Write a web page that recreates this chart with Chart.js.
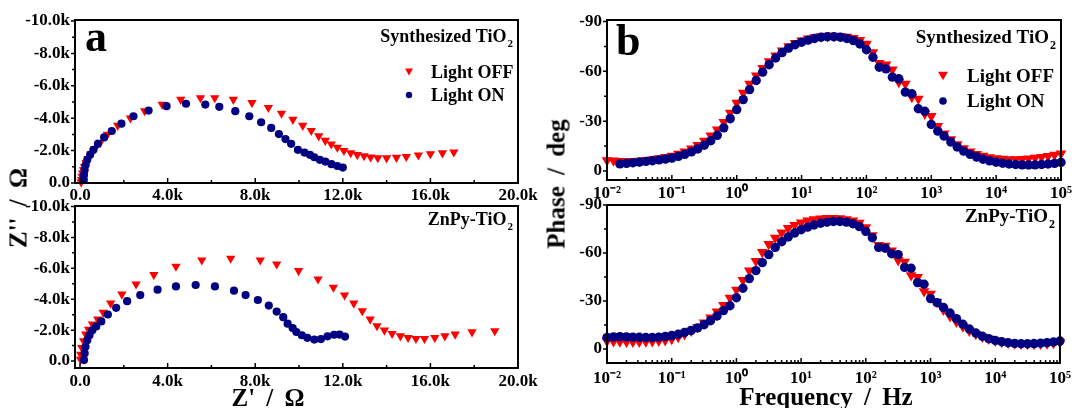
<!DOCTYPE html>
<html>
<head>
<meta charset="utf-8">
<script src="https://cdn.jsdelivr.net/npm/chart.js@4.4.1/dist/chart.umd.min.js"></script>
<style>
  body { margin: 0; background: #fff; width: 1076px; height: 408px; position: relative; overflow: hidden;
         font-family: "Liberation Serif", "Times New Roman", serif; font-weight: bold; }
  canvas { position: absolute; left: 0; top: 0; }
  .t { position: absolute; white-space: nowrap; font-size: 25px; line-height: 1; word-spacing: 5px;
       transform: translate(-50%, -50%); }
  .rot { transform: translate(-50%, -50%) rotate(-90deg); }
</style>
</head>
<body>
<canvas id="aTop" width="1076" height="408"></canvas>
<canvas id="aBot" width="1076" height="408"></canvas>
<canvas id="bTop" width="1076" height="408"></canvas>
<canvas id="bBot" width="1076" height="408"></canvas>
<div class="t rot" style="left:18px;top:208px">Z'' / Ω</div>
<div class="t rot" style="left:556px;top:184px">Phase / deg</div>
<div class="t" style="left:268px;top:397px">Z' / Ω</div>
<div class="t" style="left:826px;top:396px">Frequency / Hz</div>
<script>
// ---- tick labels ----
const zReTicks = [0, 4000, 8000, 12000, 16000, 20000];
const zReTickText = ['0.0', '4.0k', '8.0k', '12.0k', '16.0k', '20.0k'];
const zImTicks = [-10000, -8000, -6000, -4000, -2000, 0];
const zImTickText = ['-10.0k', '-8.0k', '-6.0k', '-4.0k', '-2.0k', '0.0'];
const freqTicks = [0.01, 0.1, 1, 10, 100, 1000, 10000, 100000];
const freqTickText = ['10⁻²', '10⁻¹', '10⁰', '10¹', '10²', '10³', '10⁴', '10⁵'];
const phaseTicks = [-90, -60, -30, 0];
const phaseTickText = ['-90', '-60', '-30', '0'];

// ---- Nyquist data (ohm) ----
const zReOffSyn = [50,70,90,120,160,210,280,370,500,680,920,1250,1720,2300,2950,3750,4600,5500,6150,7000,
  7850,8600,9200,9720,10170,10560,10900,11200,11470,11750,12050,12360,12660,12970,13270,13600,14000,14450,14900,15450,
  16000,16550,17070];
const zImOffSyn = [-50,-200,-400,-600,-800,-1000,-1250,-1500,-1800,-2100,-2500,-3000,-3550,-4000,-4450,-4850,-5150,-5250,-5250,-5150,
  -4950,-4650,-4300,-3920,-3550,-3230,-2900,-2620,-2400,-2200,-2000,-1860,-1740,-1670,-1600,-1550,-1540,-1570,-1630,-1720,
  -1800,-1850,-1900];
const zReOnSyn = [170,180,210,260,330,460,610,820,1100,1450,1890,2440,3130,3950,4840,5720,6360,7090,7730,8270,
  8730,9080,9380,9640,9950,10250,10500,10700,10950,11200,11480,11750,12000];
const zImOnSyn = [-190,-500,-810,-1120,-1430,-1740,-2050,-2420,-2810,-3210,-3660,-4120,-4470,-4740,-4890,-4840,-4700,-4430,-4120,-3750,
  -3400,-3020,-2710,-2420,-2050,-1880,-1740,-1590,-1430,-1320,-1160,-1050,-950];
const zReOffZn = [20,30,80,160,260,390,570,810,1060,1400,1910,2560,3370,4380,5560,6880,8230,8980,9980,10870,
  11570,12080,12500,12890,13250,13560,13900,14250,14630,14980,15340,15730,16200,16660,17130,17900,18940];
const zImOffZn = [-110,-430,-860,-1300,-1730,-2050,-2380,-2700,-3140,-3740,-4320,-4970,-5580,-6120,-6530,-6640,-6530,-6270,-5840,-5300,
  -4760,-4260,-3740,-3240,-2700,-2270,-1990,-1770,-1620,-1510,-1450,-1450,-1510,-1620,-1730,-1880,-1950];
const zReOnZn = [180,210,250,330,430,560,740,970,1270,1650,2150,2750,3540,4380,5280,6160,7030,7560,8120,8620,
  8980,9280,9480,9710,9880,10130,10380,10700,11000,11300,11600,11850,12100];
const zImOnZn = [-60,-490,-920,-1350,-1670,-1990,-2240,-2560,-3010,-3440,-3870,-4270,-4620,-4830,-4920,-4830,-4550,-4270,-3950,-3590,
  -3200,-2840,-2420,-2130,-1880,-1670,-1500,-1390,-1420,-1600,-1700,-1710,-1580];

// ---- Bode phase data ----
const freq = [0.01,0.0126,0.0158,0.02,0.0251,0.0316,0.0398,0.0501,0.0631,0.0794,
  0.1,0.126,0.158,0.2,0.251,0.316,0.398,0.501,0.631,0.794,
  1,1.26,1.58,2,2.51,3.16,3.98,5.01,6.31,7.94,
  10,12.6,15.8,20,25.1,31.6,39.8,50.1,63.1,79.4,
  100,126,158,200,251,316,398,501,631,794,
  1000,1260,1580,2000,2510,3160,3980,5010,6310,7940,
  10000,12600,15800,20000,25100,31600,39800,50100,63100,79400,
  100000];
const phaseOffSyn = [-6.5,-6.3,-6.0,-6.0,-6.0,-6.2,-6.6,-7.1,-7.7,-8.4,
  -9.2,-10.3,-11.7,-13.5,-15.6,-18.2,-21.3,-25,-29.5,-35,
  -41,-47,-52.5,-57.5,-62,-66,-69.5,-72.5,-75,-77,
  -78.5,-79.7,-80.5,-81,-81.3,-81.3,-81.2,-80.8,-80,-78.8,
  -76.5,-71.5,-65,-64,-61,-53.5,-52.5,-44.5,-43.5,-34.5,
  -33,-27,-22.5,-19,-16,-13.6,-11.7,-10.2,-9.1,-8.3,
  -7.7,-7.3,-7.1,-7.1,-7.2,-7.5,-7.9,-8.4,-9.0,-9.7,
  -10.5];
const phaseOnSyn = [null,null,-4.3,-4.6,-5.0,-5.4,-5.8,-6.2,-6.7,-7.2,
  -7.8,-8.8,-10.0,-11.5,-13.3,-15.5,-18.2,-21.5,-26,-31.5,
  -37,-43,-49,-54.5,-59.5,-64,-68,-71.3,-74,-76,
  -77.5,-78.8,-79.8,-80.5,-80.8,-80.8,-80.5,-79.8,-78.5,-76.5,
  -73,-68.5,-62.5,-61.5,-56.5,-55.5,-47.5,-46.5,-37.5,-36,
  -28,-24,-21,-17.5,-14.5,-12,-10,-8.4,-7.1,-6.1,
  -5.3,-4.7,-4.2,-3.9,-3.7,-3.6,-3.7,-3.9,-4.2,-4.6,
  -5.2];
const phaseOffZn = [-5.0,-4.8,-4.6,-4.5,-4.5,-4.5,-4.6,-4.8,-5.1,-5.5,
  -6.2,-7.5,-9.2,-11.3,-13.7,-16.5,-19.7,-23.3,-27.5,-32,
  -37,-43,-49,-55,-60.5,-65.5,-69.5,-72.8,-75.5,-77.5,
  -79,-80.2,-81,-81.5,-81.8,-81.8,-81.6,-81.1,-80.2,-78.8,
  -76,-71,-65,-64.5,-61.5,-55.5,-54.5,-46,-45,-36,
  -34.5,-29.5,-24.5,-20.5,-17,-14,-11.4,-9.3,-7.6,-6.3,
  -5.2,-4.4,-3.8,-3.4,-3.2,-3.1,-3.1,-3.2,-3.4,-3.7,
  -4.1];
const phaseOnZn = [-7.2,-7.6,-7.7,-7.6,-7.4,-7.3,-7.2,-7.2,-7.4,-7.8,
  -8.4,-9.2,-10.3,-11.6,-13.2,-15.2,-17.7,-20.6,-24,-27,
  -32,-38,-44,-49,-54,-59,-63.5,-67,-70,-72.5,
  -74.5,-76.2,-77.5,-78.6,-79.3,-79.7,-79.7,-79.3,-78.3,-76.5,
  -73.5,-69.5,-63.5,-63,-59.5,-59,-51,-50.5,-41.5,-40.5,
  -31.5,-29,-26,-22.5,-19,-15.5,-12.5,-10,-8,-6.5,
  -5.3,-4.5,-3.9,-3.5,-3.3,-3.3,-3.4,-3.6,-4.0,-4.4,
  -5.0];

const RED = '#ff0000', NAVY = '#000080';
const FAMILY = '"Liberation Serif", "Times New Roman", serif';
const TICK_FONT = { family: FAMILY, size: 17, weight: 'bold' };

const nyq = (re, im) => re.map((x, i) => ({ x, y: im[i] }));
const bode = ph => freq.map((f, i) => ({ x: f, y: ph[i] }));

function logMinors() {
  const out = [];
  for (let d = 0.01; d < 100000; d *= 10)
    for (let m = 2; m < 10; m++) out.push(d * m);
  return out;
}

function subText(ctx, main, sub, right, base, size) {
  ctx.font = 'bold ' + size + 'px ' + FAMILY;
  const w1 = ctx.measureText(main).width;
  ctx.font = 'bold ' + Math.round(size * 0.62) + 'px ' + FAMILY;
  const w2 = ctx.measureText(sub).width;
  ctx.textAlign = 'left';
  ctx.textBaseline = 'alphabetic';
  ctx.fillText(sub, right - w2, base + size * 0.3);
  ctx.font = 'bold ' + size + 'px ' + FAMILY;
  ctx.fillText(main, right - w2 - w1 - 1, base);
}

// frame, tick marks, panel letter, sample name and legend
const decor = {
  id: 'decor',
  afterDatasetsDraw(chart, args, o) {
    const ctx = chart.ctx, a = chart.chartArea;
    const xs = chart.scales.x, ys = chart.scales.y;
    ctx.save();
    ctx.strokeStyle = '#000';
    ctx.lineWidth = 1.5;
    ctx.beginPath();
    xs.ticks.forEach(t => { const p = xs.getPixelForValue(t.value); ctx.moveTo(p, a.bottom); ctx.lineTo(p, a.bottom - 5); });
    o.xMinor.forEach(v => { const p = xs.getPixelForValue(v); ctx.moveTo(p, a.bottom); ctx.lineTo(p, a.bottom - 3); });
    ys.ticks.forEach(t => { const p = ys.getPixelForValue(t.value); ctx.moveTo(a.left, p); ctx.lineTo(a.left - 4, p); });
    o.yMinor.forEach(v => { const p = ys.getPixelForValue(v); ctx.moveTo(a.left, p); ctx.lineTo(a.left - 3, p); });
    ctx.stroke();
    ctx.lineWidth = 2;
    ctx.strokeRect(a.left, a.top, a.right - a.left, a.bottom - a.top);

    ctx.fillStyle = '#000';
    if (o.letter) {
      ctx.font = 'bold 44px ' + FAMILY;
      ctx.textAlign = 'left';
      ctx.textBaseline = 'alphabetic';
      ctx.fillText(o.letter, o.letterX, o.letterY);
    }
    subText(ctx, o.sample, '2', o.sampleRight, o.sampleBase, o.fs);

    if (o.legend) {
      const L = o.legend;
      ctx.fillStyle = RED;
      ctx.beginPath();
      ctx.moveTo(L.x - L.tw / 2, L.y1 - L.tw * 0.43);
      ctx.lineTo(L.x + L.tw / 2, L.y1 - L.tw * 0.43);
      ctx.lineTo(L.x, L.y1 + L.tw * 0.43);
      ctx.closePath();
      ctx.fill();
      ctx.fillStyle = NAVY;
      ctx.beginPath();
      ctx.arc(L.x, L.y2, L.cr, 0, Math.PI * 2);
      ctx.fill();
      ctx.fillStyle = '#000';
      ctx.font = 'bold ' + o.fs + 'px ' + FAMILY;
      ctx.textAlign = 'left';
      ctx.textBaseline = 'middle';
      ctx.fillText('Light OFF', L.tx, L.y1 + 1);
      ctx.fillText('Light ON', L.tx, L.y2 + 1);
    }
    ctx.restore();
  }
};

function axis(extra, vals, text, size, pad) {
  return Object.assign({
    afterBuildTicks: s => { s.ticks = vals.map(v => ({ value: v })); },
    afterFit: s => { if (s.isHorizontal()) s.height = size; else s.width = size; },
    grid: { display: false, drawTicks: false },
    border: { display: false },
    ticks: { font: TICK_FONT, color: '#000', padding: pad, autoSkip: false, maxRotation: 0,
             callback: (v, i) => text[i] }
  }, extra);
}

function makeChart(id, o) {
  return new Chart(document.getElementById(id), {
    type: 'scatter',
    data: {
      datasets: [
        { label: 'Light ON', data: o.on, pointStyle: 'circle', pointRadius: o.rOn, pointHoverRadius: o.rOn,
          backgroundColor: NAVY, borderColor: NAVY, pointBorderWidth: 0, clip: false },
        { label: 'Light OFF', data: o.off, pointStyle: 'triangle', rotation: 180, pointRadius: o.rOff,
          pointHoverRadius: o.rOff, backgroundColor: RED, borderColor: RED, pointBorderWidth: 0, clip: false }
      ]
    },
    options: {
      responsive: false,
      animation: false,
      devicePixelRatio: 1,
      layout: { padding: o.pad },
      plugins: { legend: { display: false }, tooltip: { enabled: false }, decor: o.decor },
      scales: { x: o.x, y: o.y }
    },
    plugins: [decor]
  });
}

const zMinorX = [2000, 6000, 10000, 14000, 18000];
const zMinorY = [-9000, -7000, -5000, -3000, -1000];
const phMinorY = [-75, -45, -15];

makeChart('aTop', {
  on: nyq(zReOnSyn, zImOnSyn), off: nyq(zReOffSyn, zImOffSyn), rOn: 4.1, rOff: 5.4,
  pad: { left: 25, right: 558, top: 20, bottom: 195 },
  x: axis({ type: 'linear', min: -230, max: 20000 }, zReTicks, zReTickText, 30, 2),
  y: axis({ type: 'linear', reverse: true, min: -10060, max: 0 }, zImTicks, zImTickText, 50, 5),
  decor: { xMinor: zMinorX, yMinor: zMinorY, letter: 'a', letterX: 85, letterY: 51,
           sample: 'Synthesized TiO', sampleRight: 513, sampleBase: 41.5, fs: 18,
           legend: { x: 409, y1: 72, y2: 95, tw: 8, cr: 3.2, tx: 431 } }
});

makeChart('aBot', {
  on: nyq(zReOnZn, zImOnZn), off: nyq(zReOffZn, zImOffZn), rOn: 4.1, rOff: 5.4,
  pad: { left: 25, right: 558, top: 206, bottom: 10 },
  x: axis({ type: 'linear', min: -230, max: 20000 }, zReTicks, zReTickText, 30, 3),
  y: axis({ type: 'linear', reverse: true, min: -10030, max: 450 }, zImTicks, zImTickText, 50, 5),
  decor: { xMinor: zMinorX, yMinor: zMinorY,
           sample: 'ZnPy-TiO', sampleRight: 513, sampleBase: 225, fs: 18 }
});

makeChart('bTop', {
  on: bode(phaseOnSyn), off: bode(phaseOffSyn), rOn: 4.7, rOff: 6.2,
  pad: { left: 557, right: 15, top: 20, bottom: 198 },
  x: axis({ type: 'logarithmic', min: 0.01, max: 100000 }, freqTicks, freqTickText, 30, 3),
  y: axis({ type: 'linear', reverse: true, min: -90.9, max: 5.4 }, phaseTicks, phaseTickText, 50, 5),
  decor: { xMinor: logMinors(), yMinor: phMinorY, letter: 'b', letterX: 616, letterY: 55,
           sample: 'Synthesized TiO', sampleRight: 1056, sampleBase: 43, fs: 19,
           legend: { x: 943, y1: 76, y2: 101, tw: 10, cr: 3.8, tx: 967 } }
});

makeChart('bBot', {
  on: bode(phaseOnZn), off: bode(phaseOffZn), rOn: 4.7, rOff: 6.2,
  pad: { left: 557, right: 15, top: 205, bottom: 15 },
  x: axis({ type: 'logarithmic', min: 0.01, max: 100000 }, freqTicks, freqTickText, 30, 5),
  y: axis({ type: 'linear', reverse: true, min: -90, max: 8.75 }, phaseTicks, phaseTickText, 50, 5),
  decor: { xMinor: logMinors(), yMinor: phMinorY,
           sample: 'ZnPy-TiO', sampleRight: 1055, sampleBase: 222, fs: 19 }
});
</script>
</body>
</html>
